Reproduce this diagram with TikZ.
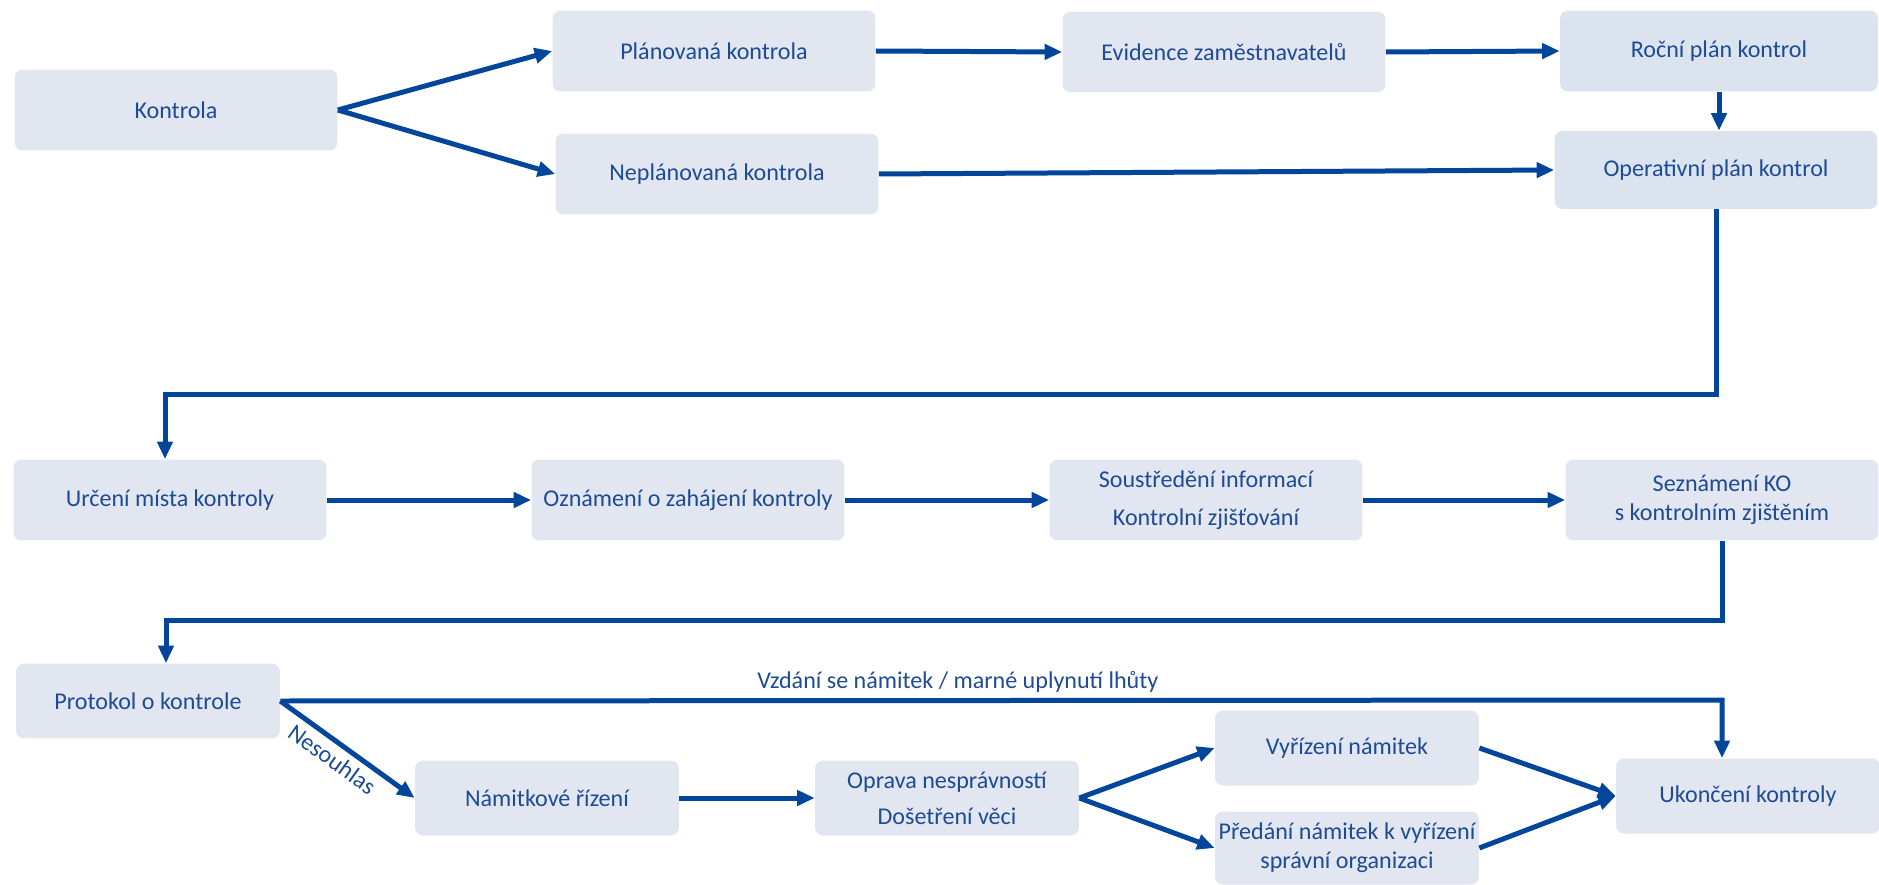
\documentclass[tikz,border=0pt]{standalone}
\usepackage{fontspec}
\setmainfont{Carlito}
\usetikzlibrary{arrows.meta}

\definecolor{boxfill}{RGB}{225,230,240}
\definecolor{planfill}{RGB}{219,227,239}
\definecolor{textblue}{RGB}{30,75,150}
\definecolor{lineblue}{RGB}{2,70,155}

\begin{document}
\begin{tikzpicture}[x=0.02cm, y=-0.02cm,
    box/.style = {rectangle,
        rounded corners=0.16cm,
        fill=boxfill,
        text=textblue,
        align=center,
        inner sep=0pt,
        minimum width=6.46cm,
        minimum height=1.62cm,
        font=\fontsize{13.7}{16.5}\selectfont},
    mid/.style = {box, minimum width=6.26cm},
    small/.style = {box, minimum width=5.28cm, minimum height=1.5cm},
    flow/.style = {draw=lineblue,
        line width=0.1cm,
        -{Triangle[length=0.35cm,width=0.3cm]}},
    note/.style = {text=textblue,
        font=\fontsize{13.7}{16.5}\selectfont}]

\useasboundingbox (0,0) rectangle (1879,885);

% Row 1
\node[box] (kontrola) at (176,110) {Kontrola};
\node[box] (plan) at (714,51) {Plánovaná kontrola};
\node[box] (neplan) at (717,174) {Neplánovaná kontrola};
\node[box] (evid) at (1224,52) {Evidence zaměstnavatelů};
\node[box,fill=planfill,minimum width=6.36cm] (rocni) at (1719,51) {Roční plán kontrol};
\node[box,fill=planfill,minimum height=1.56cm] (oper) at (1716,170) {Operativní plán kontrol};

% Row 2
\node[mid] (urceni) at (170,500) {Určení místa kontroly};
\node[mid] (ozn) at (688,500) {Oznámení o zahájení kontroly};
\node[mid] (sous) at (1206,500) {Soustředění informací\\[5pt]Kontrolní zjišťování};
\node[mid] (sezn) at (1722,500) {Seznámení KO\\s kontrolním zjištěním};

% Row 3
\node[small] (prot) at (148,701) {Protokol o kontrole};
\node[small] (nam) at (547,798) {Námitkové řízení};
\node[small] (oprava) at (947,798) {Oprava nesprávností\\[4pt]Došetření věci};
\node[small] (vyr) at (1347,748) {Vyřízení námitek};
\node[small,minimum height=1.46cm] (pred) at (1347,848) {Předání námitek k vyřízení\\správní organizaci};
\node[small] (ukon) at (1748,796) {Ukončení kontroly};

% Bends
\coordinate (b1) at (165,394);
\coordinate (b2) at (166,620);
\coordinate (vz) at (1722,700);

% Row 1 arrows
\draw[flow] (kontrola.east) -- (plan.west);
\draw[flow] (kontrola.east) -- (neplan.west);
\draw[flow] (plan.east) -- (evid.west);
\draw[flow] (evid.east) -- (rocni.west);
\draw[flow] (neplan.east) -- (oper.west);
\draw[flow] (rocni.south) -- (rocni.south |- oper.north);
\draw[flow] (oper.south) |- (b1) -- (b1 |- urceni.north);

% Row 2 arrows
\draw[flow] (urceni.east) -- (ozn.west);
\draw[flow] (ozn.east) -- (sous.west);
\draw[flow] (sous.east) -- (sezn.west);
\draw[flow] (sezn.south) |- (b2) -- (b2 |- prot.north);

% Row 3 arrows
\draw[flow] (prot.east) -- node[note,above,pos=0.47] {Vzdání se námitek / marné uplynutí lhůty} (vz) -- (vz |- ukon.north);
\draw[flow] (prot.east) -- node[note,below,sloped,pos=0.46] {Nesouhlas} (nam.west);
\draw[flow] (nam.east) -- (oprava.west);
\draw[flow] (oprava.east) -- (vyr.west);
\draw[flow] (oprava.east) -- (pred.west);
\draw[flow] (vyr.east) -- (ukon.west);
\draw[flow] (pred.east) -- (ukon.west);

\end{tikzpicture}
\end{document}
